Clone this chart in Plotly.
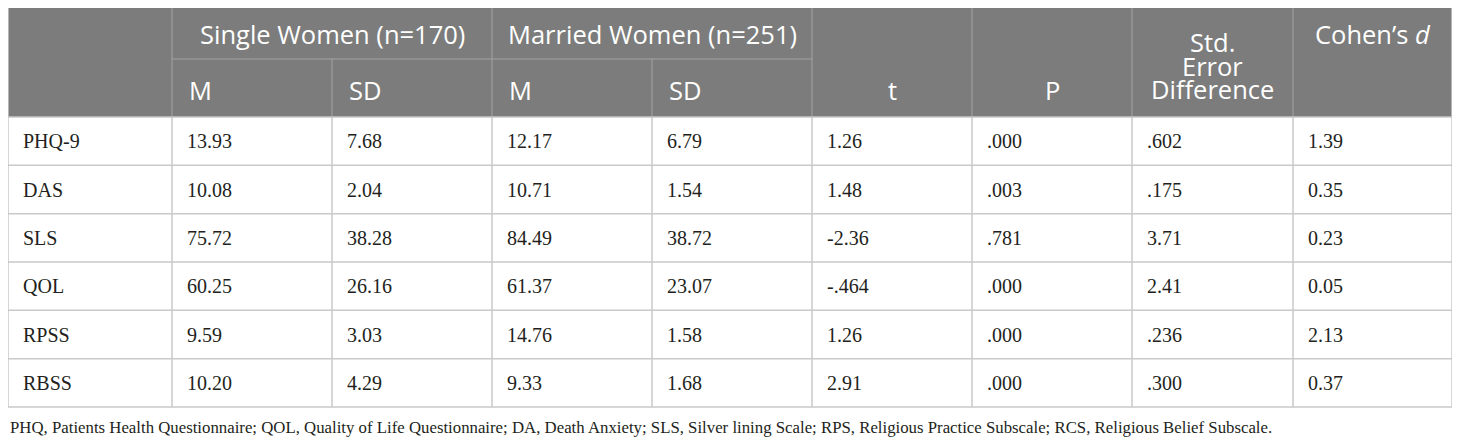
import plotly.graph_objects as go

# table contents
measures = ["PHQ-9", "DAS", "SLS", "QOL", "RPSS", "RBSS"]
single_m = ["13.93", "10.08", "75.72", "60.25", "9.59", "10.20"]
single_sd = ["7.68", "2.04", "38.28", "26.16", "3.03", "4.29"]
married_m = ["12.17", "10.71", "84.49", "61.37", "14.76", "9.33"]
married_sd = ["6.79", "1.54", "38.72", "23.07", "1.58", "1.68"]
t_vals = ["1.26", "1.48", "-2.36", "-.464", "1.26", "2.91"]
p_vals = [".000", ".003", ".781", ".000", ".000", ".000"]
se_diff = [".602", ".175", "3.71", "2.41", ".236", ".300"]
cohens_d = ["1.39", "0.35", "0.23", "0.05", "2.13", "0.37"]

groups = ["Single Women (n=170)", "Married Women (n=251)"]
sub_heads = ["M", "SD", "M", "SD"]
stat_heads = ["t", "P"]
se_head = ["Std.", "Error", "Difference"]
d_head = "Cohen\u2019s <i>d</i>"
footnote = ("PHQ, Patients Health Questionnaire; QOL, Quality of Life Questionnaire; "
            "DA, Death Anxiety; SLS, Silver lining Scale; RPS, Religious Practice Subscale; "
            "RCS, Religious Belief Subscale.")

columns = [measures, single_m, single_sd, married_m, married_sd,
           t_vals, p_vals, se_diff, cohens_d]

# layout in window pixels; the page body adds an 8px margin
W, H = 1460, 444
BODY = 8
edges = [8, 172, 332, 492, 652, 812, 972, 1132, 1293, 1452]
top, mid, head_bot, bot = 7, 59, 117, 407
row_h = (bot - head_bot) / len(measures)
pad = 15

HEAD_FILL = "#7b7c7b"
HEAD_LINE = "#a3a3a3"
BODY_LINE = "#c9c9c9"
TEXT = "#231f20"
SERIF = "Liberation Serif"
SANS = "Open Sans"

fig = go.Figure()

# body text, one trace per column
for j, col in enumerate(columns):
    fig.add_trace(go.Scatter(
        x=[edges[j] + pad] * len(col),
        y=[head_bot + row_h * (i + 0.5) + 2 for i in range(len(col))],
        text=col,
        mode="text",
        textposition="middle right",
        textfont=dict(family=SERIF, size=20, color=TEXT),
        hoverinfo="skip",
        showlegend=False,
    ))

shapes = []
# header background
shapes.append(dict(type="rect", x0=edges[0], x1=edges[-1], y0=top, y1=head_bot,
                   fillcolor=HEAD_FILL, line=dict(width=0), layer="below"))
# header lines
for k, x in enumerate(edges[1:-1], start=1):
    y0 = mid if k in (2, 4) else top
    shapes.append(dict(type="line", x0=x, x1=x, y0=y0, y1=head_bot,
                       line=dict(color=HEAD_LINE, width=1)))
shapes.append(dict(type="line", x0=edges[1], x1=edges[5], y0=mid, y1=mid,
                   line=dict(color=HEAD_LINE, width=1)))
# body grid
for i in range(len(measures) + 1):
    y = head_bot + row_h * i
    shapes.append(dict(type="line", x0=edges[0], x1=edges[-1], y0=y, y1=y,
                       line=dict(color=BODY_LINE, width=1.5)))
for x in edges:
    shapes.append(dict(type="line", x0=x, x1=x, y0=head_bot, y1=bot,
                       line=dict(color=BODY_LINE, width=1.5)))
# outer border of header
shapes.append(dict(type="line", x0=edges[0], x1=edges[-1], y0=top, y1=top,
                   line=dict(color=BODY_LINE, width=1.5)))
for x in (edges[0], edges[-1]):
    shapes.append(dict(type="line", x0=x, x1=x, y0=top, y1=head_bot,
                       line=dict(color=BODY_LINE, width=1.5)))

hfont = dict(family=SANS, size=25.5, color="white")
ann = []
for g, name in enumerate(groups):
    ann.append(dict(x=edges[1 + 2 * g + 1], y=(top + mid) / 2 + 1, text=name,
                    xanchor="center", yanchor="middle", font=hfont))
for k, name in enumerate(sub_heads):
    ann.append(dict(x=edges[1 + k] + pad, y=(mid + head_bot) / 2 + 2, text=name,
                    xanchor="left", yanchor="middle", font=hfont))
for k, name in enumerate(stat_heads):
    ann.append(dict(x=(edges[5 + k] + edges[6 + k]) / 2, y=(mid + head_bot) / 2 + 2,
                    text=name, xanchor="center", yanchor="middle", font=hfont))
for k, name in enumerate(se_head):
    ann.append(dict(x=(edges[7] + edges[8]) / 2, y=42 + 23.5 * k, text=name,
                    xanchor="center", yanchor="middle", font=hfont))
ann.append(dict(x=(edges[8] + edges[9]) / 2, y=(top + mid) / 2 + 1, text=d_head,
                xanchor="center", yanchor="middle", font=hfont))
ann.append(dict(x=edges[0], y=427, text=footnote, xanchor="left", yanchor="middle",
                font=dict(family=SERIF, size=16.8, color=TEXT)))
for a in ann:
    a.update(xref="x", yref="y", showarrow=False)

fig.update_layout(
    width=W - BODY, height=H - BODY,
    margin=dict(l=0, r=0, t=0, b=0),
    paper_bgcolor="white", plot_bgcolor="white",
    shapes=shapes, annotations=ann,
    xaxis=dict(range=[BODY, W], visible=False, fixedrange=True),
    yaxis=dict(range=[H, BODY], visible=False, fixedrange=True),
)

fig.write_html("out.html")
